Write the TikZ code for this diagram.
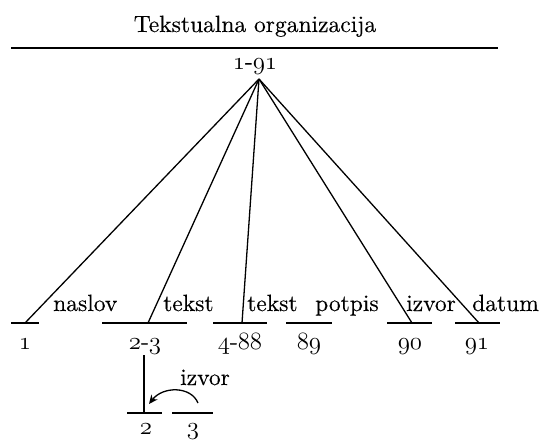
\documentclass[tikz,border=0pt]{standalone}
\usepackage{fontspec}
\setmainfont{lmroman10-regular.otf}[FakeBold=0.25]
\usetikzlibrary{arrows.meta}
\newcommand\osn[1]{{\fontencoding{OML}\fontfamily{lmm}\fontseries{m}\fontshape{it}\fontsize{25.5}{28}\selectfont #1}}
\begin{document}
\begin{tikzpicture}[x=1pt,y=-1pt,
  lbl/.style={font=\fontsize{23.5}{28}\selectfont, inner sep=0pt, anchor=base},
  lblw/.style={lbl, anchor=base west},
  ln/.style={line width=1.3pt},
  arr/.style={line width=1.3pt, -{Stealth[length=9pt,width=8pt]}}]
\useasboundingbox (0,0) rectangle (543,439);
% title
\node[lbl] (title) at (255,32) {Tekstualna organizacija};
\coordinate (tl) at (11,48);
\coordinate (tr) at (498,48);
\draw[ln] (tl) -- (tr);
\node[lbl] (root) at (255,69) {\osn{1}-\osn{91}};
\coordinate (apex) at (259,79);
% bottom segments
\coordinate (a1) at (11,323);  \coordinate (b1) at (39,323);  \coordinate (e1) at (25,323);
\coordinate (a2) at (102,323); \coordinate (b2) at (187,323); \coordinate (e2) at (148,323);
\coordinate (a3) at (213,323); \coordinate (b3) at (267,323); \coordinate (e3) at (242,323);
\coordinate (a4) at (286,323); \coordinate (b4) at (332,323);
\coordinate (a5) at (387,323); \coordinate (b5) at (432,323); \coordinate (e5) at (412,323);
\coordinate (a6) at (455,323); \coordinate (b6) at (500,323); \coordinate (e6) at (479,323);
\foreach \i in {1,...,6} {\draw[ln] (a\i) -- (b\i);}
\foreach \i in {1,2,3,5,6} {\draw[ln] (apex) -- (e\i);}
% labels above
\node[lblw] (l1) at (53,311) {naslov};
\node[lblw] (l2) at (163,311) {tekst};
\node[lblw] (l3) at (247,311) {tekst};
\node[lblw] (l4) at (315,311) {potpis};
\node[lblw] (l5) at (406,311) {izvor};
\node[lblw] (l6) at (472,311) {datum};
% numbers below
\node[lbl] (n1) at (25,349) {\osn{1}};
\node[lbl] (n2) at (145,349) {\osn{2}-\osn{3}};
\node[lbl] (n3) at (240,349) {\osn{4}-\osn{88}};
\node[lbl] (n4) at (309,349) {\osn{89}};
\node[lbl] (n5) at (410,349) {\osn{90}};
\node[lbl] (n6) at (477,349) {\osn{91}};
% subtree
\coordinate (vtop) at (144,355);
\coordinate (vbot) at (144,413);
\draw[ln] (vtop) -- (vbot);
\coordinate (s2a) at (127,413); \coordinate (s2b) at (162,413);
\coordinate (s3a) at (172,413); \coordinate (s3b) at (213,413);
\draw[ln] (s2a) -- (s2b);
\draw[ln] (s3a) -- (s3b);
\node[lbl] (m2) at (146,434) {\osn{2}};
\node[lbl] (m3) at (193,434) {\osn{3}};
\node[lblw] (iz) at (180,385) {izvor};
\coordinate (arS) at (198,403);
\coordinate (arE) at (149,404);
\draw[arr] (arS) .. controls (191,386) and (163,386) .. (arE);
\end{tikzpicture}
\end{document}
